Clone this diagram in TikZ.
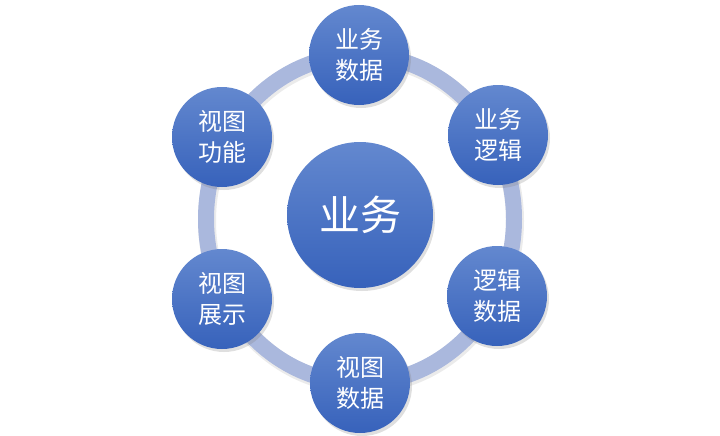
\documentclass[tikz,border=0pt]{standalone}
\usepackage{fontspec}
\newfontfamily\cjk{Noto Sans CJK SC}
\usetikzlibrary{shadows}
\definecolor{ctop}{HTML}{6388CF}
\definecolor{cbot}{HTML}{3762BB}
\definecolor{ringc}{HTML}{AAB8DD}
\tikzset{
  bubble/.style={circle, minimum size=100pt, inner sep=0pt, top color=ctop, bottom color=cbot,
    drop shadow={opacity=0.25, shadow xshift=2pt, shadow yshift=-3pt},
    text=white, align=center, font=\cjk\fontsize{24}{31}\selectfont},
  hub/.style={bubble, minimum size=146pt, font=\cjk\fontsize{41}{46}\selectfont},
}
\begin{document}
\begin{tikzpicture}[x=1pt,y=-1pt]
\useasboundingbox (0,0) rectangle (720,436);
% ring
\draw[line width=18pt, black, opacity=0.08] (361,221) ellipse [x radius=154, y radius=164];
\draw[line width=16pt, ringc] (360,219) ellipse [x radius=154, y radius=164];
\node[hub] (c) at (360,215) {业务};
\node[bubble] (n1) at (359,55) {业务\\数据};
\node[bubble] (n2) at (498,135) {业务\\逻辑};
\node[bubble] (n3) at (497,296) {逻辑\\数据};
\node[bubble] (n4) at (360,383) {视图\\数据};
\node[bubble] (n5) at (222,299) {视图\\展示};
\node[bubble] (n6) at (222,137) {视图\\功能};
\end{tikzpicture}
\end{document}
